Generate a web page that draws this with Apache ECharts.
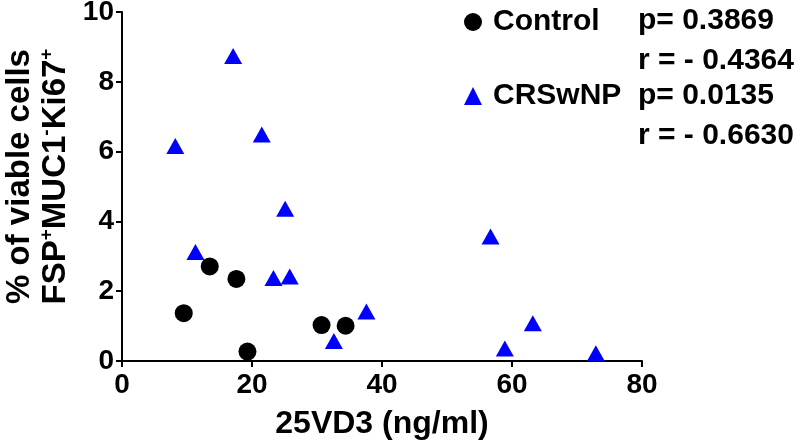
<!DOCTYPE html>
<html>
<head>
<meta charset="utf-8">
<script src="https://cdn.jsdelivr.net/npm/echarts@6/dist/echarts.min.js"></script>
<style>html,body{margin:0;padding:0;background:#fff}#c{width:800px;height:443px}</style>
</head>
<body>
<div id="c"></div>
<script>
// Data
var controlX = [9.5, 13.5, 17.6, 19.3, 30.7, 34.4];
var controlY = [1.37, 2.71, 2.35, 0.27, 1.03, 1.01];
var crsX = [8.2, 11.3, 17.1, 21.5, 23.3, 25.1, 25.8, 32.6, 37.6, 56.7, 58.9, 63.2, 72.9];
var crsY = [6.16, 3.12, 8.74, 6.49, 2.38, 4.36, 2.42, 0.57, 1.42, 3.57, 0.36, 1.08, 0.22];
var seriesNames = ['Control', 'CRSwNP'];
var statLines = ['p= 0.3869', 'r = - 0.4364', 'p= 0.0135', 'r = - 0.6630'];
var xTicks = [0, 20, 40, 60, 80];
var yTicks = [0, 2, 4, 6, 8, 10];

function pairs(xs, ys) { return xs.map(function (x, i) { return [x, ys[i]]; }); }

var FONT = '"Liberation Sans", Arial, Helvetica, sans-serif';
var chart = echarts.init(document.getElementById('c'), null, { renderer: 'canvas' });

var statTops = [6, 46, 81, 121];
var graphics = statLines.map(function (t, i) {
  return {
    type: 'text', left: 638, top: statTops[i],
    style: { text: t, font: 'bold 30px ' + FONT, fill: '#000' }
  };
});

chart.setOption({
  backgroundColor: '#fff',
  animation: false,
  grid: { left: 122, right: 158, top: 12, bottom: 82, containLabel: false, outerBoundsMode: 'none' },
  legend: {
    orient: 'vertical', left: 464, top: 7, itemGap: 44, padding: 0,
    itemWidth: 18, itemHeight: 18,
    textStyle: { fontFamily: FONT, fontWeight: 'bold', fontSize: 30, color: '#000', lineHeight: 30, padding: [0, 0, 0, 6] },
    data: [{ name: seriesNames[0], icon: 'circle' }, { name: seriesNames[1], icon: 'triangle' }]
  },
  xAxis: {
    type: 'value', min: 0, max: 80, interval: 20,
    name: '25VD3 (ng/ml)', nameLocation: 'middle', nameGap: 47,
    nameTextStyle: { fontFamily: FONT, fontWeight: 'bold', fontSize: 32, color: '#000' },
    axisLine: { show: true, onZero: false, lineStyle: { color: '#000', width: 2 } },
    axisTick: { show: true, length: 6, lineStyle: { color: '#000', width: 2 } },
    axisLabel: { fontFamily: FONT, fontWeight: 'bold', fontSize: 28, color: '#000', margin: 10 },
    splitLine: { show: false }
  },
  yAxis: {
    type: 'value', min: 0, max: 10, interval: 2,
    name: '{a|% of viable cells}\n{b|FSP}{s|+}{b|MUC1}{s|-}{b|Ki67}{s|+}',
    nameLocation: 'middle', nameRotate: 90, nameGap: 43,
    nameTextStyle: {
      fontFamily: FONT, fontWeight: 'bold', fontSize: 33, color: '#000',
      padding: [0, 0, 0, 20],
      rich: {
        a: { fontFamily: FONT, fontWeight: 'bold', fontSize: 33, color: '#000', lineHeight: 36 },
        b: { fontFamily: FONT, fontWeight: 'bold', fontSize: 33, color: '#000', lineHeight: 36 },
        s: { fontFamily: FONT, fontWeight: 'bold', fontSize: 19, color: '#000', lineHeight: 36, verticalAlign: 'top', padding: [0, 0, 14, 0] }
      }
    },
    axisLine: { show: true, onZero: false, lineStyle: { color: '#000', width: 2 } },
    axisTick: { show: true, length: 6, lineStyle: { color: '#000', width: 2 } },
    axisLabel: { fontFamily: FONT, fontWeight: 'bold', fontSize: 28, color: '#000', margin: 8 },
    splitLine: { show: false }
  },
  graphic: graphics,
  series: [
    {
      name: seriesNames[0], type: 'scatter', symbol: 'circle', symbolSize: 18,
      itemStyle: { color: '#000', opacity: 1 },
      data: pairs(controlX, controlY)
    },
    {
      name: seriesNames[1], type: 'scatter', symbol: 'triangle', symbolSize: [18, 16],
      itemStyle: { color: '#0000ff', opacity: 1 },
      data: pairs(crsX, crsY)
    }
  ]
});
</script>
</body>
</html>
